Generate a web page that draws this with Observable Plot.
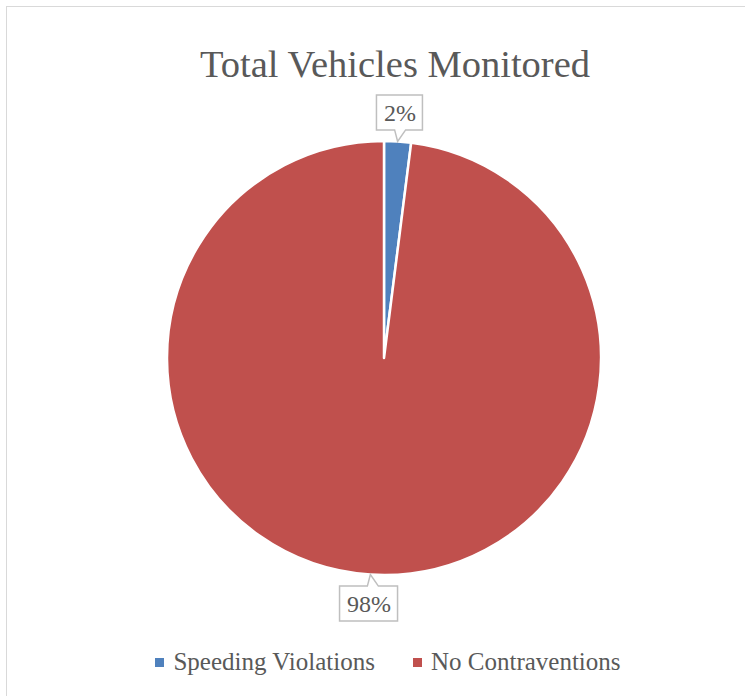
<!DOCTYPE html>
<html>
<head>
<meta charset="utf-8">
<script src="https://cdn.jsdelivr.net/npm/d3@7"></script>
<script src="https://cdn.jsdelivr.net/npm/@observablehq/plot@0.6"></script>
<style>
  html, body { margin: 0; padding: 0; background: #fff; }
  #wrap { position: relative; width: 745px; height: 696px; overflow: hidden; font-family: "Liberation Serif", serif; }
  #border { position: absolute; left: 6px; top: 6px; width: 900px; height: 900px; border: 1.5px solid #d9d9d9; box-sizing: border-box; }
  #title { position: absolute; left: 6px; width: 778px; top: 41px; text-align: center; font-size: 38.5px; color: #595959; line-height: 46px; }
  #chart { position: absolute; left: 0; top: 0; }
  #legend { position: absolute; left: 6px; width: 764px; top: 647px; display: flex; justify-content: center; gap: 38px; font-size: 25px; color: #595959; line-height: 30px; }
  .item { display: flex; align-items: center; }
  .sw { width: 9px; height: 9px; margin-right: 9px; }
</style>
</head>
<body>
<div id="wrap">
  <div id="border"></div>
  <div id="chart"></div>
  <div id="title"></div>
  <div id="legend"></div>
</div>
<script>
const title = "Total Vehicles Monitored";
const categories = ["Speeding Violations", "No Contraventions"];
const values = [2, 98];
const colors = ["#4F81BD", "#C0504D"];
const labels = ["2%", "98%"];

const FONT = "Liberation Serif";
const LABEL_SIZE = 24;
const rows = categories.map((c, i) => ({category: c, value: values[i], color: colors[i], label: labels[i]}));
const arcs = d3.pie().sort(null).value(d => d.value)(rows);
const LABEL_R = 1.134;
const labelRows = arcs.map(a => {
  const m = (a.startAngle + a.endAngle) / 2;
  return {
    label: a.data.label,
    lx: Math.sin(m) * LABEL_R, ly: Math.cos(m) * LABEL_R,
    tx: Math.sin(m), ty: Math.cos(m)
  };
});

const canvas = document.createElement("canvas");
const ctx2 = canvas.getContext("2d");
ctx2.font = `${LABEL_SIZE}px "${FONT}"`;

function pieMark(index, scales) {
  const cx = scales.x(0), cy = scales.y(0), r = scales.x(1) - scales.x(0);
  const g = d3.create("svg:g").attr("transform", `translate(${cx},${cy})`);
  const arc = d3.arc().innerRadius(0).outerRadius(r);
  g.selectAll("path").data(arcs).join("path")
    .attr("d", arc)
    .attr("fill", d => d.data.color)
    .attr("stroke", "#fff")
    .attr("stroke-width", 2.5)
    .attr("stroke-linejoin", "round");
  return g.node();
}

function calloutMark(index, scales) {
  const g = d3.create("svg:g");
  for (const d of labelRows) {
    const x = scales.x(d.lx), y = scales.y(d.ly);
    const tx = scales.x(d.tx), ty = scales.y(d.ty);
    const w = ctx2.measureText(d.label).width + 14, h = 35;
    const x0 = x - w / 2, x1 = x + w / 2, y0 = y - h / 2, y1 = y + h / 2;
    const b0 = tx - 3, b1 = tx + 8;
    let p;
    if (ty > y) {
      p = `M${x0},${y0}H${x1}V${y1}H${b1}L${tx},${ty}L${b0},${y1}H${x0}Z`;
    } else {
      p = `M${x0},${y0}H${b0}L${tx},${ty}L${b1},${y0}H${x1}V${y1}H${x0}Z`;
    }
    g.append("path").attr("d", p).attr("fill", "#fff").attr("stroke", "#bfbfbf").attr("stroke-width", 1.5);
  }
  return g.node();
}

const plot = Plot.plot({
  width: 745, height: 696, margin: 0,
  style: {background: "transparent"},
  x: {domain: [-1, 1], range: [167, 601], axis: null},
  y: {domain: [-1, 1], range: [575, 141], axis: null},
  marks: [
    pieMark,
    calloutMark,
    Plot.text(labelRows, {x: "lx", y: "ly", text: "label", fontSize: LABEL_SIZE, fill: "#595959", fontFamily: FONT, lineAnchor: "middle", textAnchor: "middle"})
  ]
});
document.getElementById("chart").appendChild(plot);
document.getElementById("title").textContent = title;

const legend = d3.select("#legend");
rows.forEach(r => {
  const it = legend.append("div").attr("class", "item");
  it.append("div").attr("class", "sw").style("background", r.color);
  it.append("span").text(r.category);
});
</script>
</body>
</html>
